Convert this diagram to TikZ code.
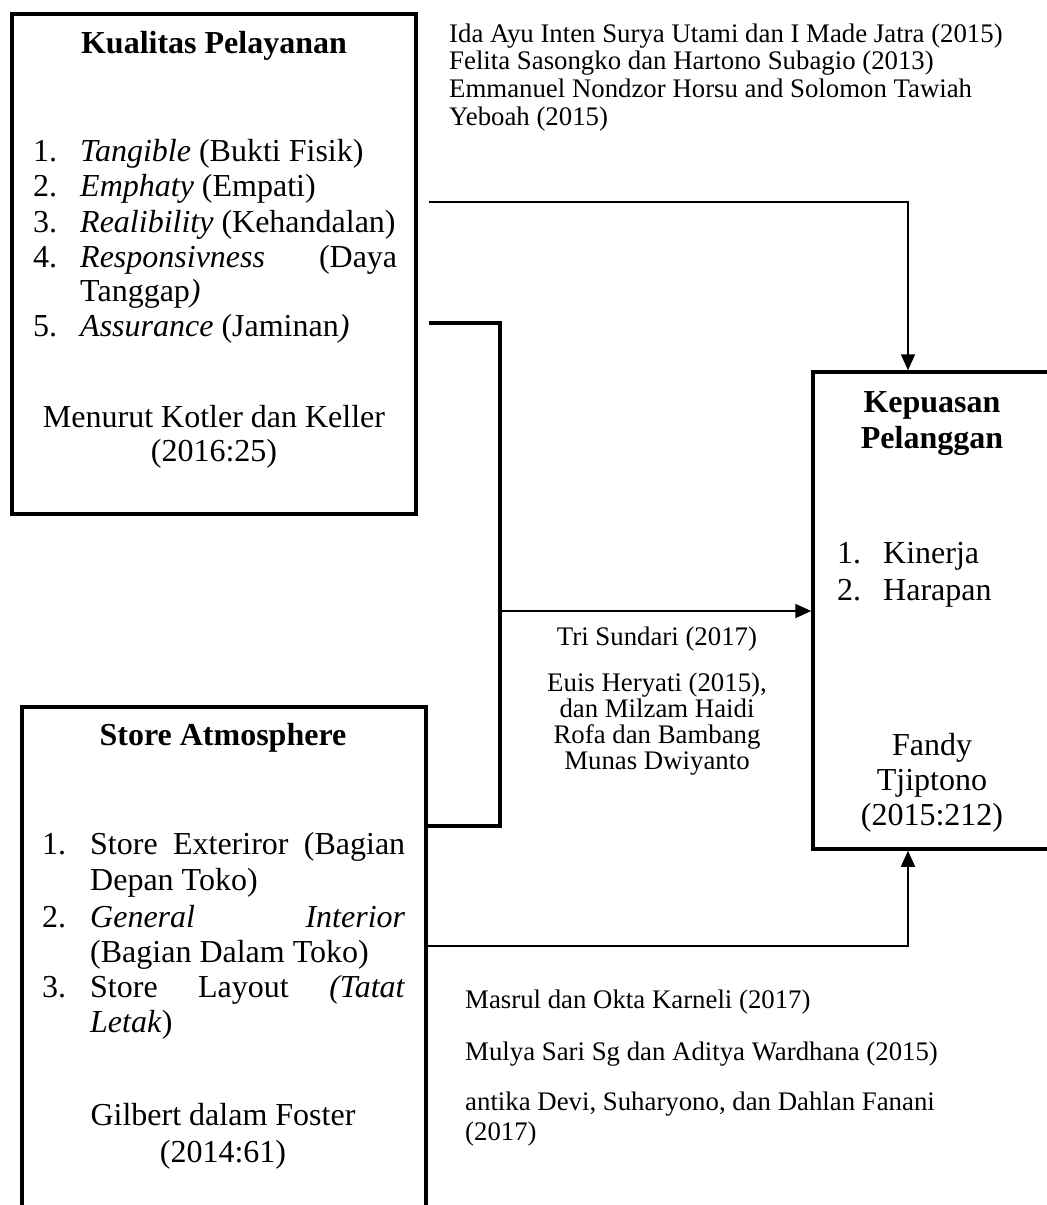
\documentclass[tikz,border=0pt]{standalone}
\usepackage{fontspec}
\setmainfont{Liberation Serif}
\usetikzlibrary{arrows.meta}
\newcommand\mainsz{\fontsize{32}{35}\selectfont}
\newcommand\refsz{\fontsize{26.8}{28}\selectfont}
\begin{document}
\begin{tikzpicture}[x=1pt,y=-1pt,
  box/.style={draw, line width=3.5pt, inner sep=0pt, outer sep=1.75pt},
  arr/.style={line width=1.8pt, -{Triangle[length=16pt,width=14pt]}},
  brk/.style={line width=3.5pt},
  txt/.style={inner sep=0pt, font=\mainsz},
  ttl/.style={inner sep=0pt, font=\mainsz\bfseries, anchor=base},
  rt/.style={inner sep=0pt, font=\refsz}]
\useasboundingbox (0,0) rectangle (1047,1205);
\fill[white] (0,0) rectangle (1047,1205);
\clip (0,0) rectangle (1047,1205);

% boxes
\node[box, minimum width=404pt, minimum height=500pt] (kp) at (214,264) {};
\node[box, minimum width=404pt, minimum height=530pt] (sa) at (224,972) {};
\node[box, minimum width=250pt, minimum height=477pt] (kep) at (938,610.5) {};

% Kualitas Pelayanan text
\node[ttl] (kpT) at (214,53) {Kualitas Pelayanan};
\node[txt, anchor=base west] (kp1) at (33,161) {\makebox[47pt][l]{1.}\textit{Tangible} (Bukti Fisik)};
\node[txt, anchor=base west] (kp2) at (33,196) {\makebox[47pt][l]{2.}\textit{Emphaty} (Empati)};
\node[txt, anchor=base west] (kp3) at (33,232) {\makebox[47pt][l]{3.}\textit{Realibility} (Kehandalan)};
\node[txt, anchor=base west] (kp4) at (33,267) {\makebox[47pt][l]{4.}\makebox[317pt][l]{\textit{Responsivness}\hfill(Daya}};
\node[txt, anchor=base west] (kp4b) at (80,301) {Tanggap\textit{)}};
\node[txt, anchor=base west] (kp5) at (33,336) {\makebox[47pt][l]{5.}\textit{Assurance} (Jaminan\textit{)}};
\node[txt, anchor=base] (kpS1) at (214,427) {Menurut Kotler dan Keller};
\node[txt, anchor=base] (kpS2) at (214,461) {(2016:25)};

% Store Atmosphere text
\node[ttl] (saT) at (223,745) {Store Atmosphere};
\node[txt, anchor=base west] (sa1) at (42,854) {\makebox[48pt][l]{1.}\makebox[315pt][s]{Store Exteriror (Bagian}};
\node[txt, anchor=base west] (sa1b) at (90,890) {Depan Toko)};
\node[txt, anchor=base west] (sa2) at (42,927) {\makebox[48pt][l]{2.}\makebox[315pt][l]{\textit{General}\hfill\textit{Interior}}};
\node[txt, anchor=base west] (sa2b) at (90,962) {(Bagian Dalam Toko)};
\node[txt, anchor=base west] (sa3) at (42,997) {\makebox[48pt][l]{3.}\makebox[315pt][s]{Store Layout \textit{(Tatat}}};
\node[txt, anchor=base west] (sa3b) at (90,1032) {\textit{Letak})};
\node[txt, anchor=base] (saS1) at (223,1125) {Gilbert dalam Foster};
\node[txt, anchor=base] (saS2) at (223,1162) {(2014:61)};

% Kepuasan Pelanggan text
\node[ttl] (kepT1) at (932,412) {Kepuasan};
\node[ttl] (kepT2) at (932,448) {Pelanggan};
\node[txt, anchor=base west] (kep1) at (837,563) {\makebox[46pt][l]{1.}Kinerja};
\node[txt, anchor=base west] (kep2) at (837,600) {\makebox[46pt][l]{2.}Harapan};
\node[txt, anchor=base] (kepS1) at (932,755) {Fandy};
\node[txt, anchor=base] (kepS2) at (932,790) {Tjiptono};
\node[txt, anchor=base] (kepS3) at (932,825) {(2015:212)};

% references
\node[rt, anchor=base west] (r1) at (449,42) {Ida Ayu Inten Surya Utami dan I Made Jatra (2015)};
\node[rt, anchor=base west] (r2) at (449,69) {Felita Sasongko dan Hartono Subagio (2013)};
\node[rt, anchor=base west] (r3) at (449,97) {Emmanuel Nondzor Horsu and Solomon Tawiah};
\node[rt, anchor=base west] (r4) at (449,125) {Yeboah (2015)};

\node[rt, anchor=base] (m1) at (657,645) {Tri Sundari (2017)};
\node[rt, anchor=base] (m2) at (657,691) {Euis Heryati (2015),};
\node[rt, anchor=base] (m3) at (657,717) {dan Milzam Haidi};
\node[rt, anchor=base] (m4) at (657,743) {Rofa dan Bambang};
\node[rt, anchor=base] (m5) at (657,769) {Munas Dwiyanto};

\node[rt, anchor=base west] (b1r) at (465,1008) {Masrul dan Okta Karneli (2017)};
\node[rt, anchor=base west] (b2r) at (465,1060) {Mulya Sari Sg dan Aditya Wardhana (2015)};
\node[rt, anchor=base west] (b3r) at (465,1110) {antika Devi, Suharyono, dan Dahlan Fanani};
\node[rt, anchor=base west] (b4r) at (465,1140) {(2017)};

% connectors
\coordinate (cx) at (908,0);
\coordinate (t0) at (429,202);
\draw[arr] (t0) -| (kep.north -| cx);
\coordinate (b0) at (429,323);
\coordinate (b1) at (500,826);
\draw[brk] (b0) -| (b1) -- (sa.east |- b1);
\coordinate (m0) at (500,611);
\draw[arr] (m0) -- (kep.west |- m0);
\coordinate (u0) at (0,946);
\draw[arr] (sa.east |- u0) -| (kep.south -| cx);
\end{tikzpicture}
\end{document}
